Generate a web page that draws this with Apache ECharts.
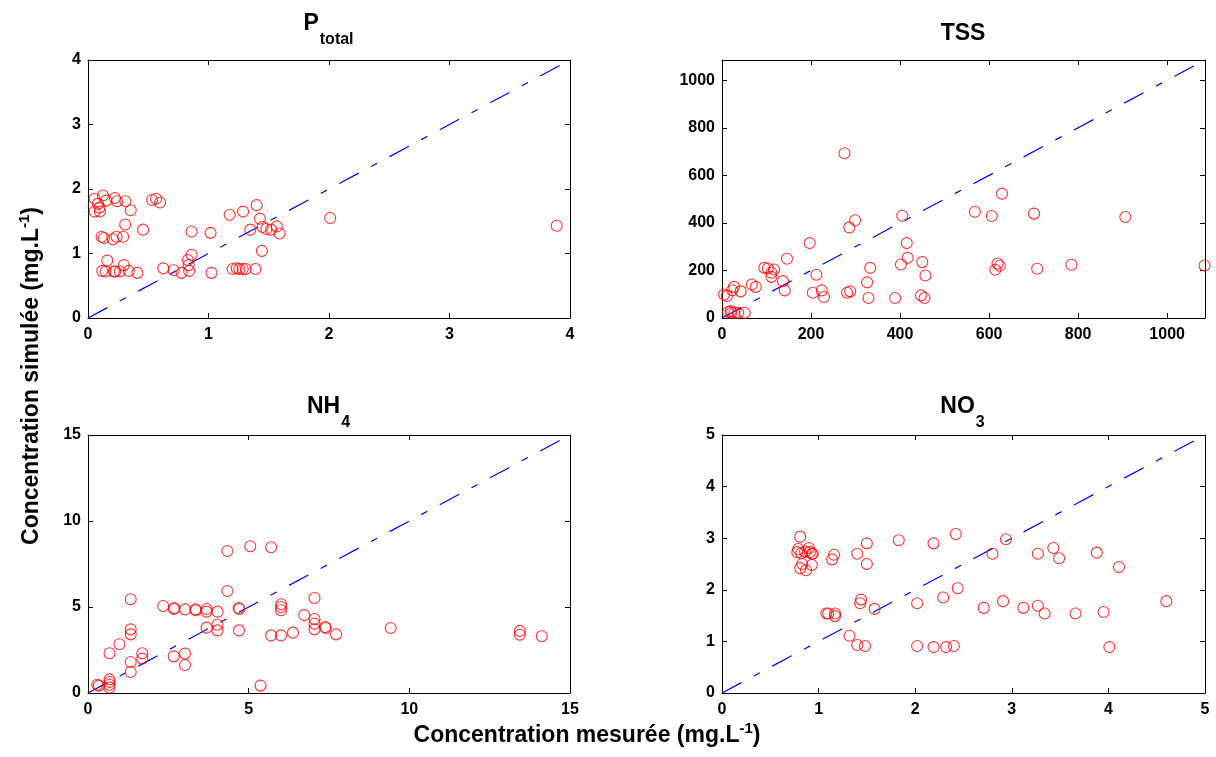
<!DOCTYPE html>
<html>
<head>
<meta charset="utf-8">
<script src="https://cdn.jsdelivr.net/npm/echarts@6/dist/echarts.min.js"></script>
<style>
html,body{margin:0;padding:0;background:#fff;}
#chart{width:1216px;height:757px;}
</style>
</head>
<body>
<div id="chart"></div>
<script>
// ---- Data ----
// P total
const ptX = [0.055,0.124,0.223,0.242,0.311,0.152,0.083,0.096,0.055,0.099,0.355,0.532,0.565,0.598,0.309,0.457,0.113,0.132,0.207,0.237,0.292,0.86,1.017,1.176,1.287,1.40,1.427,1.347,1.449,1.48,1.52,1.567,1.59,1.443,0.160,0.298,0.118,0.146,0.215,0.226,0.264,0.339,0.410,0.625,0.711,0.777,0.840,0.835,0.829,0.86,1.025,1.20,1.234,1.256,1.284,1.309,1.39,2.01,3.89];
const ptY = [1.85,1.90,1.86,1.81,1.81,1.82,1.77,1.71,1.65,1.65,1.67,1.83,1.85,1.79,1.45,1.37,1.26,1.24,1.22,1.26,1.26,1.34,1.32,1.60,1.65,1.75,1.54,1.37,1.41,1.38,1.37,1.42,1.31,1.04,0.89,0.82,0.73,0.72,0.72,0.72,0.72,0.73,0.70,0.77,0.74,0.70,0.73,0.82,0.90,0.98,0.70,0.76,0.77,0.76,0.76,0.76,0.76,1.55,1.43];
// TSS
const tssX = [275,299,286,405,415,417,450,457,402,333,326,329,389,447,455,197,146,95,103,117,111,111,212,137,141,224,229,204,281,288,67,76,27,23,42,4.5,11,14,21,28,36,51,20,629,568,606,701,906,619,624,614,708,785,1084];
const tssY = [693,411,381,430,315,253,235,179,225,211,150,84,84,95,84,315,249,211,208,204,190,173,182,155,116,116,88,106,106,112,141,131,131,117,112,99,93,25,22,22,22,22,29,523,447,429,439,425,229,220,203,207,224,221];
// NH4
const nhX = [4.34,5.05,5.70,4.34,1.33,2.34,2.67,2.69,3.02,3.34,3.36,3.69,3.69,4.03,4.69,4.71,6.01,6.01,6.01,6.73,7.05,7.05,7.05,7.05,7.38,7.40,7.72,4.03,4.03,3.69,4.70,5.70,6.01,6.38,1.33,1.33,0.98,0.67,1.69,1.69,1.33,1.33,2.67,3.02,3.02,5.37,0.29,0.34,0.67,0.67,0.67,0.67,9.42,13.44,13.44,14.12];
const nhY = [8.26,8.53,8.47,5.93,5.45,5.06,4.88,4.94,4.86,4.86,4.81,4.88,4.73,4.73,4.94,4.88,5.16,5.00,4.81,4.53,5.52,4.30,4.03,3.70,3.84,3.78,3.41,3.97,3.64,3.80,3.64,3.35,3.35,3.51,3.70,3.41,2.83,2.31,2.31,2.00,1.80,1.22,2.13,2.29,1.63,0.43,0.48,0.43,0.79,0.64,0.48,0.31,3.78,3.61,3.39,3.30];
// NO3
const noX = [0.81,0.79,0.78,0.82,0.86,0.90,0.91,0.93,0.94,0.83,0.81,0.87,0.93,1.14,1.16,1.40,1.50,1.50,1.83,2.19,2.42,2.44,2.29,2.02,1.58,1.44,1.43,1.08,1.10,1.17,1.17,1.32,1.40,1.48,2.02,2.19,2.32,2.40,2.94,2.80,3.27,3.43,3.49,3.88,4.11,2.71,2.91,3.12,3.27,3.34,3.66,3.95,4.60,4.01];
const noY = [3.03,2.79,2.73,2.71,2.74,2.81,2.73,2.70,2.70,2.50,2.42,2.38,2.48,2.59,2.68,2.70,2.90,2.50,2.96,2.90,3.08,2.03,1.85,1.74,1.63,1.81,1.74,1.54,1.54,1.54,1.49,1.11,0.93,0.91,0.91,0.89,0.89,0.91,2.98,2.70,2.70,2.81,2.61,2.72,2.44,1.65,1.78,1.65,1.69,1.54,1.54,1.57,1.78,0.89];

const axisMax = [4, 1085, 15, 5];
const axisInterval = [1, 200, 5, 1];
const diagEnd = [3.95, 1085, 14.7, 5];
const titleMain = ['P', 'TSS', 'NH', 'NO'];
const titleSub = ['total', '', '4', '3'];
const xLabel = 'Concentration mesurée (mg.L';
const yLabel = 'Concentration simulée (mg.L';

// ---- Layout ----
const FONT = '"Liberation Sans", Arial, Helvetica, sans-serif';
const grids = [
  {left: 88, top: 60, width: 482, height: 258},
  {left: 722, top: 60, width: 483, height: 258},
  {left: 88, top: 435, width: 482, height: 258},
  {left: 722, top: 435, width: 483, height: 258}
];
const panels = [[ptX, ptY], [tssX, tssY], [nhX, nhY], [noX, noY]];
const titlePos = [[329, 30], [963, 34], [329, 413], [963, 413]];

const xAxes = [], yAxes = [], series = [];
grids.forEach((g, i) => {
  const base = {
    gridIndex: i, type: 'value', min: 0, max: axisMax[i], interval: axisInterval[i],
    splitLine: {show: false},
    axisLine: {show: true, onZero: false, lineStyle: {color: '#000', width: 1}},
    axisTick: {show: true, inside: true, length: 5, lineStyle: {color: '#000', width: 1}}
  };
  const lbl = {show: true, color: '#000', fontWeight: 'bold', fontSize: 16, fontFamily: FONT,
    showMaxLabel: axisMax[i] % axisInterval[i] === 0, formatter: v => String(v)};
  xAxes.push(Object.assign({}, base, {position: 'bottom', axisLabel: Object.assign({}, lbl, {margin: 9})}));
  xAxes.push(Object.assign({}, base, {position: 'top', axisLabel: {show: false}}));
  yAxes.push(Object.assign({}, base, {position: 'left', axisLabel: Object.assign({}, lbl, {margin: 7})}));
  yAxes.push(Object.assign({}, base, {position: 'right', axisLabel: {show: false}}));
  const [xs, ys] = panels[i];
  series.push({
    type: 'line', xAxisIndex: 2 * i, yAxisIndex: 2 * i,
    data: [[0, 0], [diagEnd[i], diagEnd[i]]],
    symbol: 'none', silent: true,
    lineStyle: {color: '#0000ff', width: 1.2, type: [22, 14, 7, 14]},
    z: 1
  });
  series.push({
    type: 'scatter', xAxisIndex: 2 * i, yAxisIndex: 2 * i,
    data: xs.map((x, k) => [x, ys[k]]),
    symbol: 'circle', symbolSize: 11,
    itemStyle: {color: 'rgba(0,0,0,0)', borderColor: '#ff0000', borderWidth: 1.1},
    z: 2
  });
});

const richMain = {
  a: {fontSize: 23, fontWeight: 'bold', fontFamily: FONT, color: '#000', lineHeight: 26, verticalAlign: 'bottom'},
  s: {fontSize: 15, fontWeight: 'bold', fontFamily: FONT, color: '#000', lineHeight: 15, verticalAlign: 'top'}
};
const richTitle = {
  a: {fontSize: 23, fontWeight: 'bold', fontFamily: FONT, color: '#000', lineHeight: 24, verticalAlign: 'top'},
  b: {fontSize: 16, fontWeight: 'bold', fontFamily: FONT, color: '#000', lineHeight: 16, verticalAlign: 'bottom', padding: [0, 0, 0, 1]},
  c: {fontSize: 4, lineHeight: 36, width: 1, verticalAlign: 'middle'}
};

const graphics = titleMain.map((t, i) => ({
  type: 'text', x: titlePos[i][0], y: titlePos[i][1],
  style: {
    text: titleSub[i] ? '{a|' + t + '}{b|' + titleSub[i] + '}{c| }' : '{a|' + t + '}',
    rich: richTitle, align: 'center', verticalAlign: 'middle'
  }
}));
graphics.push(
  {type: 'text', x: 587, y: 734, style: {text: '{a|' + xLabel + '}{s|-1}{a|)}', rich: richMain, align: 'center', verticalAlign: 'middle'}},
  {type: 'text', x: 30, y: 376, rotation: Math.PI / 2, style: {text: '{a|' + yLabel + '}{s|-1}{a|)}', rich: richMain, align: 'center', verticalAlign: 'middle'}}
);

const chart = echarts.init(document.getElementById('chart'), null, {renderer: 'canvas'});
chart.setOption({
  animation: false,
  backgroundColor: '#fff',
  grid: grids,
  xAxis: xAxes,
  yAxis: yAxes,
  series: series,
  graphic: graphics
});
</script>
</body>
</html>
